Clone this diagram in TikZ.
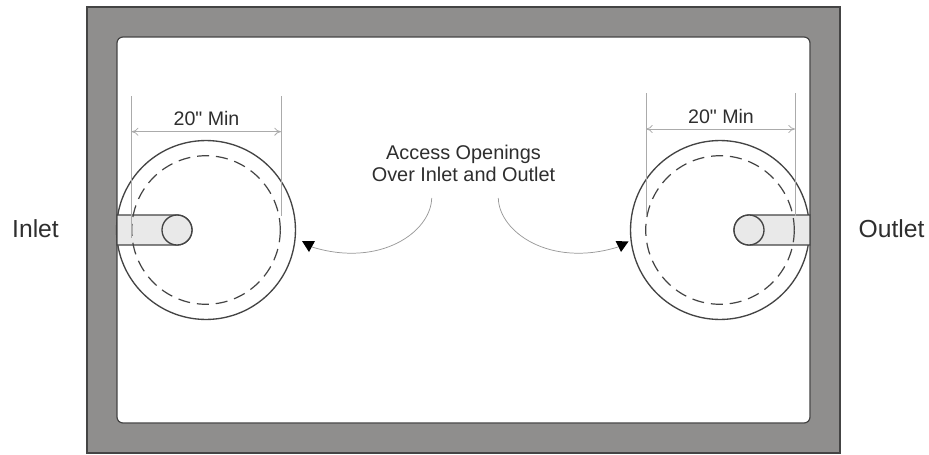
\documentclass[tikz,border=0pt]{standalone}
\usepackage{fontspec}
\setmainfont{Liberation Sans}[Ligatures=TeXOff]
\definecolor{wall}{HTML}{8F8E8D}
\definecolor{edge}{HTML}{444444}
\definecolor{ink}{HTML}{2E2E2E}
\definecolor{dim}{HTML}{ABABAB}
\definecolor{pipe}{HTML}{E9E9E9}
\tikzset{
  wallfill/.style={fill=wall,draw=edge,line width=1pt},
  roomfill/.style={fill=white,draw=edge,line width=0.9pt,rounded corners=4.5pt},
  ring/.style={draw=edge,line width=1pt},
  dashring/.style={draw=edge,line width=0.9pt,dash pattern=on 9pt off 5.2pt},
  pipeline/.style={draw=edge,line width=1pt,fill=pipe},
  dimline/.style={draw=dim,line width=0.6pt},
  dimarrow/.style={dimline,{To[length=5pt,width=6pt,fill=none]}-{To[length=5pt,width=6pt,fill=none]}},
  callout/.style={draw=gray!80,line width=0.55pt},
  tip/.style={fill=black,draw=none},
  lbl/.style={text=ink,inner sep=0pt,align=center},
}
\usetikzlibrary{arrows.meta}
\begin{document}
\begin{tikzpicture}[x=0.75pt,y=-0.75pt]
\useasboundingbox (0,0) rectangle (929,454);
\fill[white] (0,0) rectangle (929,454);
% tank
\path[wallfill] (87,7) rectangle (840,453);
\path[roomfill] (117,37) rectangle (810,423);
% left opening
\path[ring,fill=white] (206,230) circle (67.1pt);
\path[pipeline] (117,215) -- (177,215) arc (90:-90:11.25pt) -- (117,245) -- cycle;
\path[pipeline] (177,230) circle (11.25pt);
\path[dashring] (206,230) circle (55.7pt);
% right opening
\path[ring,fill=white] (720,230) circle (67.1pt);
\path[pipeline] (810,215) -- (749,215) arc (90:270:11.25pt) -- (810,245) -- cycle;
\path[pipeline] (749,230) circle (11.25pt);
\path[dashring] (720,230) circle (55.7pt);
% dimensions
\coordinate (la) at (131.7,96);
\coordinate (lb) at (281,96);
\coordinate (la2) at (131.7,238);
\coordinate (lb2) at (281,216);
\draw[dimline] (la) -- (la2);
\draw[dimline] (lb) -- (lb2);
\draw[dimarrow] (131.7,131.7) -- (281,131.7);
\coordinate (ra) at (646,93);
\coordinate (rb) at (795,93);
\coordinate (ra2) at (646,216);
\coordinate (rb2) at (795,216);
\draw[dimline] (ra) -- (ra2);
\draw[dimline] (rb) -- (rb2);
\draw[dimarrow] (646,129) -- (795,129);
% labels
\node[lbl,font=\fontsize{14.7pt}{17pt}\selectfont] (dl) at (206.5,118.5) {20" Min};
\node[lbl,font=\fontsize{14.7pt}{17pt}\selectfont] (dr) at (721,116) {20" Min};
\node[lbl,font=\fontsize{14.9pt}{16.5pt}\selectfont] (access) at (463.5,163.5) {Access Openings\\Over Inlet and Outlet};
\node[lbl,font=\fontsize{18.5pt}{20pt}\selectfont] (inlet) at (35.5,229) {Inlet};
\node[lbl,font=\fontsize{18.5pt}{20pt}\selectfont] (outlet) at (891.5,229) {Outlet};
% callouts
\coordinate (cl) at (431.7,198);
\coordinate (tl) at (312,247);
\coordinate (cr) at (498.3,198);
\coordinate (tr) at (618,247);
\draw[callout] (cl) .. controls (431,232) and (380,268) .. (tl);
\draw[callout] (cr) .. controls (499,232) and (550,268) .. (tr);
\path[tip] (302,241) -- (315,241) -- (309,252) -- cycle;
\path[tip] (615.5,241) -- (628.5,241.5) -- (621,252) -- cycle;
\end{tikzpicture}
\end{document}
